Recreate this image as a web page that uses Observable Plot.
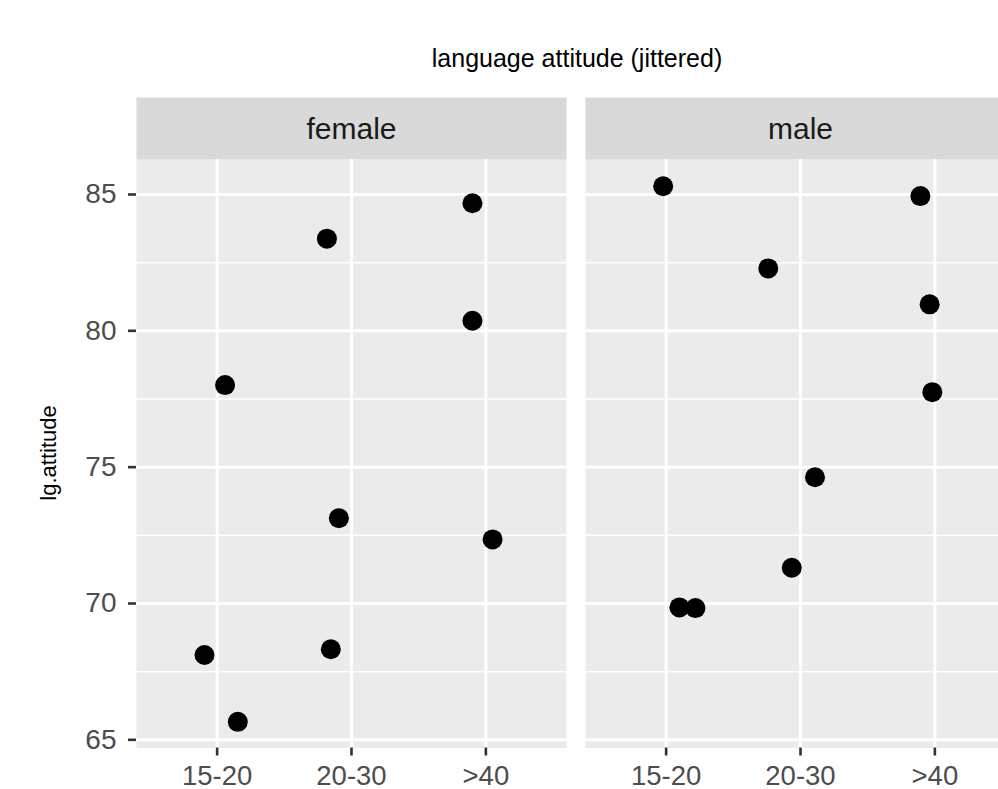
<!DOCTYPE html>
<html>
<head>
<meta charset="utf-8">
<script src="https://cdn.jsdelivr.net/npm/d3@7"></script>
<script src="https://cdn.jsdelivr.net/npm/@observablehq/plot@0.6"></script>
<style>
  html, body { margin: 0; padding: 0; overflow: hidden; background: #ffffff; width: 998px; height: 789px; }
  #wrap { position: relative; width: 1016px; height: 789px; font-family: "Liberation Sans", Arial, Helvetica, sans-serif; }
  #title { position: absolute; top: 46px; left: 577px; transform: translateX(-50%); font-size: 25px; line-height: 25px; color: #000; white-space: nowrap; }
  #ylab { position: absolute; left: 49px; top: 453px; transform: translate(-50%, -50%) rotate(-90deg); font-size: 22px; line-height: 22px; color: #000; white-space: nowrap; }
  #chart { position: absolute; left: 0; top: 0; }
</style>
</head>
<body>
<div id="wrap">
  <div id="chart"></div>
  <div id="title">language attitude (jittered)</div>
  <div id="ylab">lg.attitude</div>
</div>
<script>
// Facet categories and x categories
const genders = ["female", "male"];
const ageGroups = ["15-20", "20-30", ">40"];

// Per-point values
const pointGender = ["female","female","female","female","female","female","female","female","female",
                     "male","male","male","male","male","male","male","male","male"];
const pointAge = ["15-20","15-20","15-20","20-30","20-30","20-30",">40",">40",">40",
                  "15-20","15-20","15-20","20-30","20-30","20-30",">40",">40",">40"];
// horizontal jitter (in category units) as drawn
const pointJitter = [0.059, -0.094, 0.154, -0.183, -0.094, -0.154, -0.10, -0.10, 0.05,
                     -0.022, 0.099, 0.218, -0.24, 0.108, -0.065, -0.108, -0.039, -0.019];
const lgAttitude = [78.01, 68.11, 65.66, 83.38, 73.13, 68.32, 84.68, 80.37, 72.35,
                    85.30, 69.855, 69.83, 82.29, 74.63, 71.31, 84.94, 80.97, 77.75];

// y axis ticks
const yMajor = [65, 70, 75, 80, 85];
const yMinor = [67.5, 72.5, 77.5, 82.5];
const xTicks = [1, 2, 3];

const data = lgAttitude.map((v, i) => ({
  gender: pointGender[i],
  x: ageGroups.indexOf(pointAge[i]) + 1 + pointJitter[i],
  y: v
}));

const font = '"Liberation Sans", Arial, Helvetica, sans-serif';

const chart = Plot.plot({
  width: 1016,
  height: 789,
  marginLeft: 136,
  marginRight: 1,
  marginTop: 159,
  marginBottom: 41.5,
  style: { fontFamily: font, background: "transparent", overflow: "visible" },
  fx: { domain: genders, paddingInner: 0.04232, paddingOuter: 0, axis: null, label: null },
  x: { domain: [0.4, 3.6], label: null },
  y: { domain: [64.70, 86.283], label: null },
  marks: [
    Plot.frame({ fill: "#EBEBEB", stroke: null }),
    Plot.frame({ fill: "#D9D9D9", stroke: null, insetTop: -62, insetBottom: 588.5 }),
    Plot.gridY(yMinor, { stroke: "#ffffff", strokeOpacity: 1, strokeWidth: 1.5 }),
    Plot.gridY(yMajor, { stroke: "#ffffff", strokeOpacity: 1, strokeWidth: 3 }),
    Plot.gridX(xTicks, { stroke: "#ffffff", strokeOpacity: 1, strokeWidth: 3 }),
    Plot.axisY(yMajor, { anchor: "left", tickSize: 8, tickPadding: 12, stroke: "#333333", strokeWidth: 2.6,
      fill: "#4D4D4D", fontSize: 28, label: null }),
    Plot.axisX(xTicks, { anchor: "bottom", tickSize: 8, tickPadding: 9, stroke: "#333333", strokeWidth: 2.6,
      fill: "#4D4D4D", fontSize: 27.5, label: null, tickFormat: i => ageGroups[i - 1] }),
    Plot.text(genders, { fx: d => d, text: d => d, frameAnchor: "top", dy: -30, fontSize: 30, fill: "#1A1A1A", lineAnchor: "middle" }),
    Plot.dot(data, { fx: "gender", x: "x", y: "y", r: 10, fill: "#000000", stroke: null })
  ]
});

document.getElementById("chart").appendChild(chart);
</script>
</body>
</html>
